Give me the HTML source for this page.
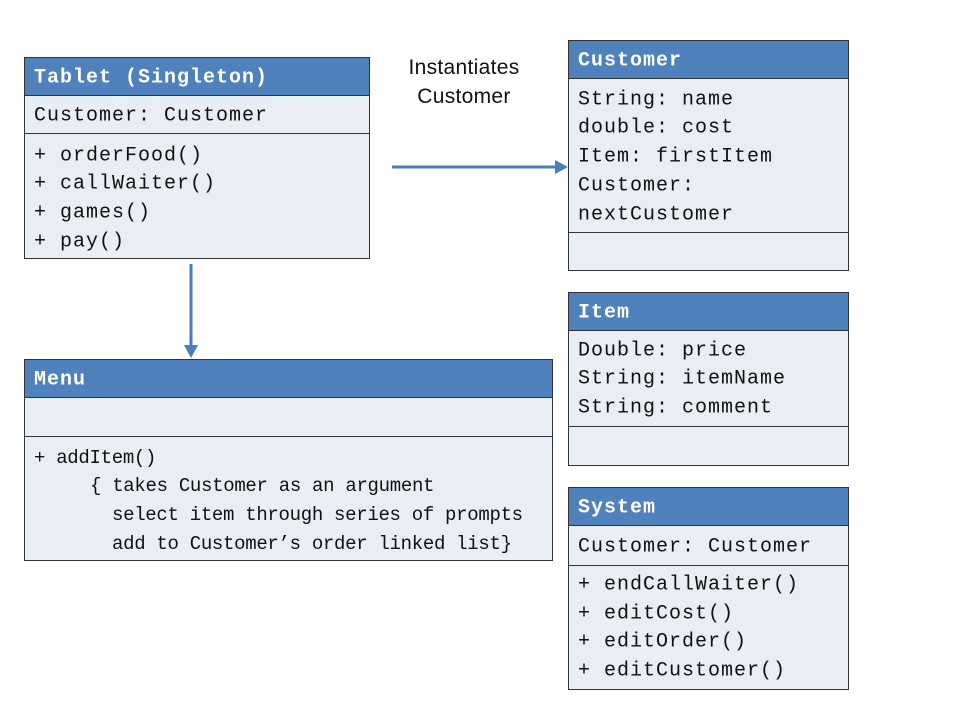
<!DOCTYPE html>
<html><head><meta charset="utf-8"><style>
body{margin:0;width:960px;height:720px;background:#fff;position:relative;overflow:hidden}
.b{position:absolute;background:#e9edf4;border:1.5px solid #333;box-sizing:border-box}
.h{position:absolute;left:0;right:0;top:0;background:#4f81bd;border-bottom:1.5px solid #333;box-sizing:border-box}
.sep{position:absolute;left:0;right:0;border-top:1.5px solid #333}
.t{position:absolute;font-family:"Liberation Mono",monospace;font-size:20px;letter-spacing:1px;color:#111;white-space:pre;line-height:1;transform:translateY(-42%)}
.hd{color:#fff;font-weight:bold}
.m{font-size:19px;letter-spacing:-0.3px}
.lbl{position:absolute;font-family:"Liberation Sans",sans-serif;font-size:21px;letter-spacing:0.3px;color:#111;text-align:center;transform:translate(-50%,-50%);white-space:nowrap}
</style></head><body>
<!-- Tablet -->
<div class="b" style="left:24px;top:57px;width:346px;height:202px">
<div class="h" style="height:38px"></div><div class="sep" style="top:75px"></div></div>
<div class="t hd" style="left:34px;top:77px">Tablet (Singleton)</div>
<div class="t" style="left:34px;top:115px">Customer: Customer</div>
<div class="t" style="left:34px;top:155px">+ orderFood()</div>
<div class="t" style="left:34px;top:183px">+ callWaiter()</div>
<div class="t" style="left:34px;top:212px">+ games()</div>
<div class="t" style="left:34px;top:241px">+ pay()</div>
<!-- Customer -->
<div class="b" style="left:568px;top:40px;width:281px;height:231px">
<div class="h" style="height:38px"></div><div class="sep" style="top:191px"></div></div>
<div class="t hd" style="left:578px;top:60px">Customer</div>
<div class="t" style="left:578px;top:99px">String: name</div>
<div class="t" style="left:578px;top:127px">double: cost</div>
<div class="t" style="left:578px;top:156px">Item: firstItem</div>
<div class="t" style="left:578px;top:185px">Customer:</div>
<div class="t" style="left:578px;top:214px">nextCustomer</div>
<!-- Item -->
<div class="b" style="left:568px;top:292px;width:281px;height:174px">
<div class="h" style="height:38px"></div><div class="sep" style="top:133px"></div></div>
<div class="t hd" style="left:578px;top:312px">Item</div>
<div class="t" style="left:578px;top:350px">Double: price</div>
<div class="t" style="left:578px;top:378px">String: itemName</div>
<div class="t" style="left:578px;top:407px">String: comment</div>
<!-- System -->
<div class="b" style="left:568px;top:487px;width:281px;height:203px">
<div class="h" style="height:38px"></div><div class="sep" style="top:77px"></div></div>
<div class="t hd" style="left:578px;top:507px">System</div>
<div class="t" style="left:578px;top:546px">Customer: Customer</div>
<div class="t" style="left:578px;top:584px">+ endCallWaiter()</div>
<div class="t" style="left:578px;top:613px">+ editCost()</div>
<div class="t" style="left:578px;top:641px">+ editOrder()</div>
<div class="t" style="left:578px;top:670px">+ editCustomer()</div>
<!-- Menu -->
<div class="b" style="left:24px;top:359px;width:529px;height:202px">
<div class="h" style="height:38px"></div><div class="sep" style="top:76px"></div></div>
<div class="t hd" style="left:34px;top:379px">Menu</div>
<div class="t m" style="left:34px;top:457px">+ addItem()</div>
<div class="t m" style="left:90px;top:485px">{ takes Customer as an argument</div>
<div class="t m" style="left:112px;top:514px">select item through series of prompts</div>
<div class="t m" style="left:112px;top:543px">add to Customer’s order linked list}</div>
<!-- label -->
<div class="lbl" style="left:464px;top:68px">Instantiates</div>
<div class="lbl" style="left:464px;top:97px">Customer</div>
<!-- arrows -->
<svg width="960" height="720" style="position:absolute;left:0;top:0">
<line x1="392" y1="167" x2="560" y2="167" stroke="#4a7ebb" stroke-width="3"/>
<polygon points="568,167 555,160 555,174" fill="#4a7ebb"/>
<line x1="191" y1="264" x2="191" y2="350" stroke="#4a7ebb" stroke-width="3"/>
<polygon points="191,358 184,345 198,345" fill="#4a7ebb"/>
</svg>
</body></html>
